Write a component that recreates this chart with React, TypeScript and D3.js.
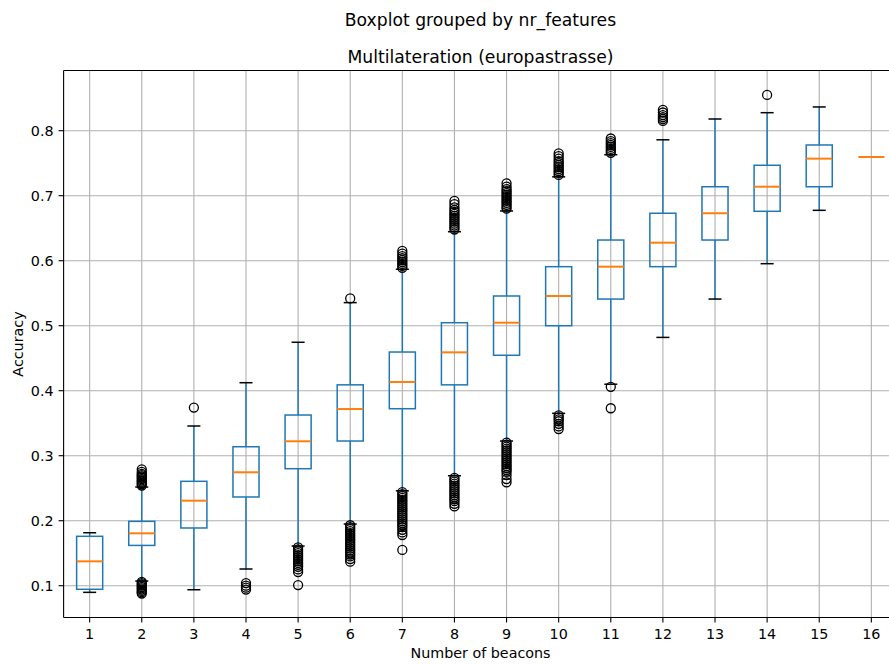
import React from "react";
import * as d3 from "d3";

// Accuracy distribution per number of beacons (multilateration, europastrasse)
const beacons = [1, 2, 3, 4, 5, 6, 7, 8, 9, 10, 11, 12, 13, 14, 15, 16];
const q1 = [0.0945, 0.162, 0.1888, 0.2365, 0.28, 0.3226, 0.3723, 0.409, 0.4545, 0.5, 0.541, 0.5908, 0.6318, 0.676, 0.7138, 0.7595];
const medians = [0.1375, 0.1806, 0.2308, 0.2745, 0.3222, 0.3718, 0.4134, 0.459, 0.5046, 0.5457, 0.5908, 0.6277, 0.673, 0.7138, 0.757, 0.7595];
const q3 = [0.176, 0.199, 0.2606, 0.3138, 0.3626, 0.409, 0.4595, 0.5046, 0.5457, 0.5908, 0.6318, 0.673, 0.7138, 0.7468, 0.778, 0.7595];
const whiskerLow = [0.0898, 0.1072, 0.0938, 0.1257, 0.161, 0.1949, 0.246, 0.2692, 0.3226, 0.3652, 0.41, 0.482, 0.541, 0.5954, 0.6775, 0.7595];
const whiskerHigh = [0.1815, 0.2518, 0.3457, 0.4123, 0.4745, 0.5355, 0.5868, 0.6446, 0.6765, 0.729, 0.763, 0.786, 0.818, 0.8277, 0.8365, 0.7595];
const fliers: number[][] = [
  [],
  [0.254, 0.256, 0.258, 0.26, 0.262, 0.264, 0.266, 0.268, 0.27, 0.272, 0.275, 0.279,
   0.106, 0.104, 0.102, 0.1, 0.098, 0.096, 0.094, 0.092, 0.09, 0.088],
  [0.374],
  [0.104, 0.1, 0.097, 0.094],
  [0.159, 0.156, 0.153, 0.15, 0.147, 0.144, 0.141, 0.138, 0.135, 0.132, 0.129, 0.125, 0.121, 0.101],
  [0.542,
   0.193, 0.19, 0.187, 0.184, 0.181, 0.178, 0.175, 0.172, 0.169, 0.166, 0.163, 0.16, 0.157, 0.154, 0.151, 0.148, 0.145, 0.141, 0.137],
  [0.589, 0.592, 0.595, 0.598, 0.601, 0.604, 0.607, 0.611, 0.615,
   0.244, 0.241, 0.238, 0.235, 0.232, 0.229, 0.226, 0.223, 0.22, 0.217, 0.214, 0.211, 0.208, 0.205, 0.202, 0.199, 0.196, 0.193, 0.19, 0.186, 0.182, 0.178, 0.155],
  [0.648, 0.651, 0.654, 0.657, 0.66, 0.663, 0.666, 0.669, 0.672, 0.675, 0.678, 0.682, 0.687, 0.692,
   0.266, 0.263, 0.26, 0.257, 0.254, 0.251, 0.248, 0.245, 0.242, 0.239, 0.236, 0.233, 0.23, 0.226, 0.222],
  [0.68, 0.683, 0.686, 0.689, 0.692, 0.695, 0.698, 0.701, 0.704, 0.707, 0.71, 0.714, 0.719,
   0.32, 0.317, 0.314, 0.311, 0.308, 0.305, 0.302, 0.299, 0.296, 0.293, 0.29, 0.287, 0.284, 0.281, 0.278, 0.275, 0.27, 0.264, 0.259],
  [0.732, 0.735, 0.738, 0.741, 0.744, 0.747, 0.75, 0.753, 0.757, 0.761, 0.765,
   0.362, 0.359, 0.356, 0.353, 0.349, 0.345, 0.341],
  [0.766, 0.769, 0.772, 0.775, 0.778, 0.781, 0.784, 0.788,
   0.406, 0.373],
  [0.815, 0.818, 0.821, 0.824, 0.828, 0.832],
  [],
  [0.855],
  [],
  [],
];
const yTicks = [0.1, 0.2, 0.3, 0.4, 0.5, 0.6, 0.7, 0.8];

const W = 889;
const H = 664;
const plot = { left: 63.6, right: 897.4, top: 70.5, bottom: 617.5 };
const FONT = "'DejaVu Sans', sans-serif";
const BLUE = "#1f77b4";
const ORANGE = "#ff7f0e";
const GRID = "#b0b0b0";

export default function App() {
  const x = d3.scaleLinear().domain([0.5, 16.5]).range([plot.left, plot.right]);
  const y = d3.scaleLinear().domain([0.0511, 0.8926]).range([plot.bottom, plot.top]);
  const boxHalf = x(1.25) - x(1);
  const capHalf = x(1.125) - x(1);

  return (
    <svg
      width={W}
      height={H}
      style={{ position: "absolute", left: 0, top: 0, background: "#fff" }}
      fontFamily={FONT}
    >
      <rect x={0} y={0} width={W} height={H} fill="#fff" />
      {/* grid */}
      <g stroke={GRID} strokeWidth={1.1}>
        {beacons.map((b) => (
          <line key={"gx" + b} x1={x(b)} x2={x(b)} y1={plot.top} y2={plot.bottom} />
        ))}
        {yTicks.map((t) => (
          <line key={"gy" + t} x1={plot.left} x2={plot.right} y1={y(t)} y2={y(t)} />
        ))}
      </g>

      {/* boxes */}
      {beacons.map((b, i) => {
        const cx = x(b);
        return (
          <g key={"box" + b} fill="none">
            <line x1={cx} x2={cx} y1={y(q1[i])} y2={y(whiskerLow[i])} stroke={BLUE} strokeWidth={1.5} />
            <line x1={cx} x2={cx} y1={y(q3[i])} y2={y(whiskerHigh[i])} stroke={BLUE} strokeWidth={1.5} />
            <line x1={cx - capHalf} x2={cx + capHalf} y1={y(whiskerLow[i])} y2={y(whiskerLow[i])} stroke="#000" strokeWidth={1.5} />
            <line x1={cx - capHalf} x2={cx + capHalf} y1={y(whiskerHigh[i])} y2={y(whiskerHigh[i])} stroke="#000" strokeWidth={1.5} />
            <rect
              x={cx - boxHalf}
              y={y(q3[i])}
              width={boxHalf * 2}
              height={Math.max(0, y(q1[i]) - y(q3[i]))}
              stroke={BLUE}
              strokeWidth={1.5}
            />
            <line x1={cx - boxHalf} x2={cx + boxHalf} y1={y(medians[i])} y2={y(medians[i])} stroke={ORANGE} strokeWidth={2} />
            {fliers[i].map((v, k) => (
              <circle key={k} cx={cx} cy={y(v)} r={4.5} stroke="#000" strokeWidth={1.3} fill="none" />
            ))}
          </g>
        );
      })}

      {/* spines */}
      <g stroke="#000" strokeWidth={1.1} fill="none">
        <line x1={plot.left} x2={plot.left} y1={plot.top} y2={plot.bottom} />
        <line x1={plot.left} x2={plot.right} y1={plot.bottom} y2={plot.bottom} />
        <line x1={plot.left} x2={plot.right} y1={plot.top} y2={plot.top} />
        <line x1={plot.right} x2={plot.right} y1={plot.top} y2={plot.bottom} />
      </g>

      {/* axes */}
      <g fontSize={14.3} fill="#000">
        {beacons.map((b) => (
          <g key={"xt" + b}>
            <line x1={x(b)} x2={x(b)} y1={plot.bottom} y2={plot.bottom + 5} stroke="#000" strokeWidth={1.1} />
            <text x={x(b)} y={639.4} textAnchor="middle">{b}</text>
          </g>
        ))}
        {yTicks.map((t) => (
          <g key={"yt" + t}>
            <line x1={plot.left - 5} x2={plot.left} y1={y(t)} y2={y(t)} stroke="#000" strokeWidth={1.1} />
            <text x={plot.left - 10} y={y(t) + 5.2} textAnchor="end">{t.toFixed(1)}</text>
          </g>
        ))}
        <text x={(plot.left + plot.right) / 2} y={657.5} textAnchor="middle">Number of beacons</text>
        <text
          transform={`translate(23.2, ${(plot.top + plot.bottom) / 2}) rotate(-90)`}
          textAnchor="middle"
        >
          Accuracy
        </text>
      </g>

      {/* titles */}
      <text x={(plot.left + plot.right) / 2} y={26} textAnchor="middle" fontSize={17.2} fill="#000">
        Boxplot grouped by nr_features
      </text>
      <text x={(plot.left + plot.right) / 2} y={62.5} textAnchor="middle" fontSize={17.2} fill="#000">
        Multilateration (europastrasse)
      </text>
    </svg>
  );
}
